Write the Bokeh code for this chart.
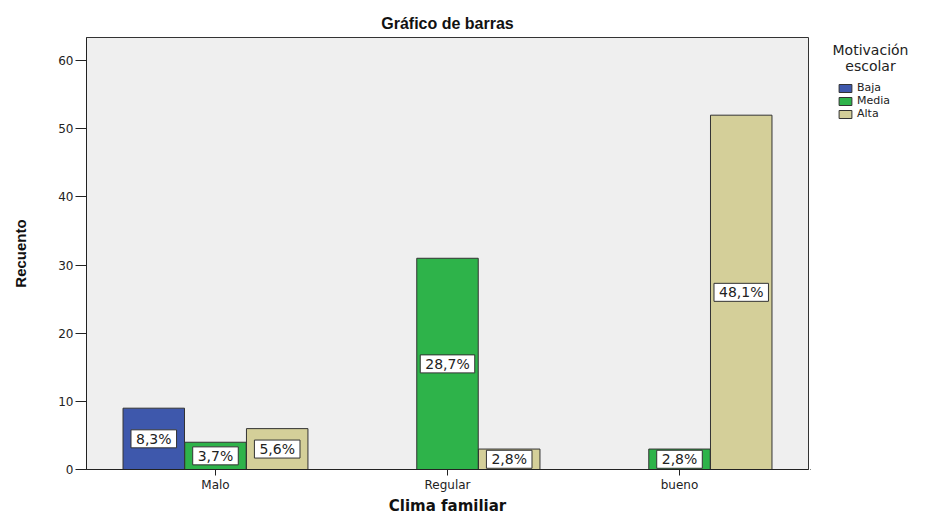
from bokeh.plotting import figure
from bokeh.layouts import row
from bokeh.models import (ColumnDataSource, FactorRange, Range1d, Legend, LegendItem,
                          FixedTicker)
from bokeh.core.properties import value
from bokeh.transform import dodge
from bokeh.embed import file_html
from bokeh.resources import INLINE

# ---- data ----
categories = ["Malo", "Regular", "bueno"]
series = ["Baja", "Media", "Alta"]
baja = [9, 0, 0]
media = [4, 31, 3]
alta = [6, 3, 52]
series_values = [baja, media, alta]
colors = ["#3E58AC", "#2EB34A", "#D4CF99"]
y_ticks = [0, 10, 20, 30, 40, 50, 60]
legend_title = ["Motivación", "escolar"]

total = sum(sum(v) for v in series_values)

p = figure(width=810, height=517,
           x_range=FactorRange(*categories, range_padding=0.0373),
           y_range=Range1d(0, 63.4),
           output_backend="svg", toolbar_location=None,
           min_border_left=86, min_border_right=2, min_border_top=37, min_border_bottom=46,
           title="Gráfico de barras")

p.border_fill_color = "white"
p.background_fill_color = "#EFEFEF"
p.grid.visible = False
p.outline_line_color = "#333333"
p.outline_line_width = 1

p.title.align = "center"
p.title.text_font = "Liberation Sans"
p.title.text_font_size = "16px"
p.title.text_font_style = "bold"
p.title.text_color = "#111111"
p.title.standoff = 12

offsets = [-0.266, 0.0, 0.266]
bar_width = 0.265
for name, vals, col, off in zip(series, series_values, colors, offsets):
    xs = [c for c, v in zip(categories, vals) if v > 0]
    tops = [v for v in vals if v > 0]
    labels = [("%.1f%%" % (100.0 * v / total)).replace(".", ",") for v in tops]
    src = ColumnDataSource(dict(x=xs, top=tops, mid=[t / 2.0 for t in tops], label=labels))
    p.vbar(x=dodge("x", off, range=p.x_range), top="top", width=bar_width, source=src,
           fill_color=col, line_color="#333333", line_width=1)
    p.text(x=dodge("x", off, range=p.x_range), y="mid", text="label", source=src,
           text_align="center", text_baseline="middle",
           text_font=value("DejaVu Sans"), text_font_size="14px", text_color="#222222",
           background_fill_color="white", border_line_color="#333333", border_line_width=1,
           padding=[5, 1])

# axes
p.yaxis.ticker = FixedTicker(ticks=y_ticks)
p.yaxis.minor_tick_line_color = None
p.yaxis.major_tick_out = 11
p.yaxis.major_tick_in = 0
p.yaxis.major_label_standoff = 2
p.yaxis.major_label_text_font = "DejaVu Sans"
p.yaxis.major_label_text_font_size = "12px"
p.yaxis.major_label_text_color = "#222222"
p.yaxis.axis_label = "Recuento"
p.yaxis.axis_label_text_font = "Liberation Sans"
p.yaxis.axis_label_text_font_size = "15px"
p.yaxis.axis_label_text_font_style = "bold"
p.yaxis.axis_label_text_color = "#111111"
p.yaxis.axis_label_standoff = 26
p.yaxis.axis_line_color = "#222222"
p.yaxis.major_tick_line_color = "#222222"

p.xaxis.major_tick_out = 6
p.xaxis.major_tick_in = 0
p.xaxis.major_label_standoff = 2
p.xaxis.major_label_text_font = "DejaVu Sans"
p.xaxis.major_label_text_font_size = "12px"
p.xaxis.major_label_text_color = "#222222"
p.xaxis.axis_label = "Clima familiar"
p.xaxis.axis_label_text_font = "DejaVu Sans"
p.xaxis.axis_label_text_font_size = "15px"
p.xaxis.axis_label_text_font_style = "bold"
p.xaxis.axis_label_text_color = "#111111"
p.xaxis.axis_label_standoff = 2
p.xaxis.axis_line_color = "#222222"
p.xaxis.major_tick_line_color = "#222222"

# ---- legend panel (separate small figure on the right; its frame is aligned
# with the main frame, which spans screen y 37..470) ----
lg = figure(width=119, height=517, x_range=Range1d(0, 119), y_range=Range1d(47, 480),
            output_backend="svg", toolbar_location=None,
            min_border_left=0, min_border_right=0, min_border_top=0, min_border_bottom=0)
lg.axis.visible = False
lg.grid.visible = False
lg.outline_line_color = None
lg.background_fill_color = "white"
lg.border_fill_color = "white"

lg.text(x=[60, 60], y=[467, 451], text=legend_title,
        text_align="center", text_baseline="middle",
        text_font=value("DejaVu Sans"), text_font_size="14px", text_color="#222222")

items = []
for name, col in zip(series, colors):
    # swatch-only renderer: its single bar lies outside the visible range
    r = lg.vbar(x=[-1000], top=[1], width=1, fill_color=col, line_color="#333333", line_width=1)
    items.append(LegendItem(label=name, renderers=[r]))

legend = Legend(items=items, location=(27, 349), orientation="vertical",
                glyph_width=16, glyph_height=10, label_height=10, spacing=0,
                label_standoff=4, padding=0, margin=0,
                label_text_font="DejaVu Sans", label_text_font_size="11px",
                label_text_color="#222222", label_text_baseline="middle",
                border_line_color=None, background_fill_alpha=0)
lg.add_layout(legend)

layout = row(p, lg)
open("out.html", "w").write(file_html(layout, INLINE))
